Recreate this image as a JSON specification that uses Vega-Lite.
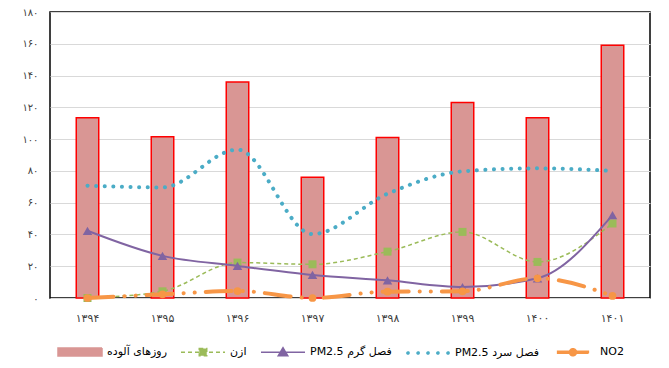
{
  "$schema": "https://vega.github.io/schema/vega-lite/v6.json",
  "width": 600,
  "height": 286,
  "autosize": {"type": "none"},
  "padding": {"left": 50, "top": 12, "right": 19, "bottom": 70},
  "config": {
    "view": {"stroke": "#000000", "strokeWidth": 1.5},
    "font": "DejaVu Sans"
  },
  "data": {
    "values": [
      {"year": "۱۳۹۴", "series": "روزهای آلوده", "value": 113.5},
      {"year": "۱۳۹۵", "series": "روزهای آلوده", "value": 101.5},
      {"year": "۱۳۹۶", "series": "روزهای آلوده", "value": 136},
      {"year": "۱۳۹۷", "series": "روزهای آلوده", "value": 76},
      {"year": "۱۳۹۸", "series": "روزهای آلوده", "value": 101},
      {"year": "۱۳۹۹", "series": "روزهای آلوده", "value": 123},
      {"year": "۱۴۰۰", "series": "روزهای آلوده", "value": 113.5},
      {"year": "۱۴۰۱", "series": "روزهای آلوده", "value": 159},
      {"year": "۱۳۹۴", "series": "ازن", "value": 0},
      {"year": "۱۳۹۵", "series": "ازن", "value": 4.2},
      {"year": "۱۳۹۶", "series": "ازن", "value": 22.3},
      {"year": "۱۳۹۷", "series": "ازن", "value": 21.2},
      {"year": "۱۳۹۸", "series": "ازن", "value": 29.2},
      {"year": "۱۳۹۹", "series": "ازن", "value": 41.6},
      {"year": "۱۴۰۰", "series": "ازن", "value": 22.7},
      {"year": "۱۴۰۱", "series": "ازن", "value": 46.9},
      {"year": "۱۳۹۴", "series": "PM2.5 فصل گرم", "value": 42.3},
      {"year": "۱۳۹۵", "series": "PM2.5 فصل گرم", "value": 26.5},
      {"year": "۱۳۹۶", "series": "PM2.5 فصل گرم", "value": 20.2},
      {"year": "۱۳۹۷", "series": "PM2.5 فصل گرم", "value": 14.5},
      {"year": "۱۳۹۸", "series": "PM2.5 فصل گرم", "value": 11.1},
      {"year": "۱۳۹۹", "series": "PM2.5 فصل گرم", "value": 6.9},
      {"year": "۱۴۰۰", "series": "PM2.5 فصل گرم", "value": 12.4},
      {"year": "۱۴۰۱", "series": "PM2.5 فصل گرم", "value": 52.2},
      {"year": "۱۳۹۴", "series": "PM2.5 فصل سرد", "value": 70.7},
      {"year": "۱۳۹۵", "series": "PM2.5 فصل سرد", "value": 69.6},
      {"year": "۱۳۹۶", "series": "PM2.5 فصل سرد", "value": 93.4},
      {"year": "۱۳۹۷", "series": "PM2.5 فصل سرد", "value": 40.2},
      {"year": "۱۳۹۸", "series": "PM2.5 فصل سرد", "value": 65.6},
      {"year": "۱۳۹۹", "series": "PM2.5 فصل سرد", "value": 79.7},
      {"year": "۱۴۰۰", "series": "PM2.5 فصل سرد", "value": 81.6},
      {"year": "۱۴۰۱", "series": "PM2.5 فصل سرد", "value": 80},
      {"year": "۱۳۹۴", "series": "NO2", "value": 0},
      {"year": "۱۳۹۵", "series": "NO2", "value": 2.3},
      {"year": "۱۳۹۶", "series": "NO2", "value": 4.4},
      {"year": "۱۳۹۷", "series": "NO2", "value": 0},
      {"year": "۱۳۹۸", "series": "NO2", "value": 4},
      {"year": "۱۳۹۹", "series": "NO2", "value": 4.2},
      {"year": "۱۴۰۰", "series": "NO2", "value": 12.4},
      {"year": "۱۴۰۱", "series": "NO2", "value": 1.3}
    ]
  },
  "encoding": {
    "x": {
      "field": "year",
      "type": "ordinal",
      "sort": null,
      "scale": {"paddingInner": 0.7, "paddingOuter": 0.35},
      "axis": {
        "title": null,
        "labelAngle": 0,
        "ticks": false,
        "domain": false,
        "grid": false,
        "labelPadding": 14,
        "labelFontSize": 11,
        "labelColor": "#404040"
      }
    },
    "y": {
      "field": "value",
      "type": "quantitative",
      "scale": {"domain": [0, 180], "nice": false},
      "axis": {
        "title": null,
        "values": [0, 20, 40, 60, 80, 100, 120, 140, 160, 180],
        "ticks": false,
        "domain": false,
        "labelPadding": 12,
        "labelFontSize": 10,
        "labelColor": "#404040",
        "gridColor": "#D9D9D9",
        "gridWidth": 1,
        "labelExpr": "replace(replace(replace(replace(replace(replace(replace(replace(replace(replace(datum.label, regexp('0','g'),'۰'), regexp('1','g'),'۱'), regexp('2','g'),'۲'), regexp('3','g'),'۳'), regexp('4','g'),'۴'), regexp('5','g'),'۵'), regexp('6','g'),'۶'), regexp('7','g'),'۷'), regexp('8','g'),'۸'), regexp('9','g'),'۹')"
      }
    },
    "color": {
      "field": "series",
      "type": "nominal",
      "scale": {
        "domain": ["روزهای آلوده", "ازن", "PM2.5 فصل گرم", "PM2.5 فصل سرد", "NO2"],
        "range": ["#D99694", "#9BBB59", "#8064A2", "#4BACC6", "#F79646"]
      },
      "legend": {
        "title": null,
        "orient": "none",
        "direction": "horizontal",
        "columns": 5,
        "legendX": 7,
        "legendY": 317,
        "columnPadding": 11,
        "labelOffset": 4,
        "labelFontSize": 11,
        "labelColor": "#000000",
        "symbolSize": 1936,
        "symbolStrokeWidth": 1.5,
        "labelLimit": 200,
        "encode": {
          "symbols": {
            "update": {
              "shape": {"signal": "datum.value === 'روزهای آلوده' ? 'M-1,-0.18H1V0.18H-1Z' : datum.value === 'ازن' ? 'M-1,0H1M-0.17,-0.17H0.17V0.17H-0.17Z' : datum.value === 'PM2.5 فصل گرم' ? 'M-1,0H1M-0.22,0.17L0,-0.2L0.22,0.17Z' : datum.value === 'PM2.5 فصل سرد' ? 'M-0.96,0A0.05,0.05 0 1,1 -0.86,0A0.05,0.05 0 1,1 -0.96,0ZM-0.5,0A0.05,0.05 0 1,1 -0.4,0A0.05,0.05 0 1,1 -0.5,0ZM-0.05,0A0.05,0.05 0 1,1 0.05,0A0.05,0.05 0 1,1 -0.05,0ZM0.4,0A0.05,0.05 0 1,1 0.5,0A0.05,0.05 0 1,1 0.4,0ZM0.86,0A0.05,0.05 0 1,1 0.96,0A0.05,0.05 0 1,1 0.86,0Z' : 'M-0.7,-0.05H0.7V0.05H-0.7ZM-0.16,0A0.16,0.16 0 1,1 0.16,0A0.16,0.16 0 1,1 -0.16,0Z'"},
              "fill": {"signal": "datum.value === 'روزهای آلوده' ? '#D99694' : datum.value === 'ازن' ? '#9BBB59' : datum.value === 'PM2.5 فصل گرم' ? '#8064A2' : datum.value === 'PM2.5 فصل سرد' ? '#4BACC6' : '#F79646'"},
              "stroke": {"signal": "datum.value === 'روزهای آلوده' ? '#FF0000' : datum.value === 'ازن' ? '#9BBB59' : datum.value === 'PM2.5 فصل گرم' ? '#8064A2' : datum.value === 'PM2.5 فصل سرد' ? '#4BACC6' : '#F79646'"},
              "strokeDash": {"signal": "datum.value === 'ازن' ? [4, 3] : [1, 0]"},
              "opacity": {"value": 1}
            }
          }
        }
      }
    }
  },
  "layer": [
    {
      "transform": [{"filter": "datum.series === 'روزهای آلوده'"}],
      "mark": {"type": "bar", "stroke": "#FF0000", "strokeWidth": 1.5, "opacity": 1}
    },
    {
      "transform": [{"filter": "datum.series === 'ازن'"}],
      "mark": {"type": "line", "strokeWidth": 1.5, "strokeDash": [4, 3], "interpolate": "monotone"}
    },
    {
      "transform": [{"filter": "datum.series === 'ازن'"}],
      "mark": {"type": "point", "shape": "square", "filled": true, "size": 64, "opacity": 1}
    },
    {
      "transform": [{"filter": "datum.series === 'PM2.5 فصل گرم'"}],
      "mark": {"type": "line", "strokeWidth": 2, "interpolate": "monotone"}
    },
    {
      "transform": [{"filter": "datum.series === 'PM2.5 فصل گرم'"}],
      "mark": {"type": "point", "shape": "triangle-up", "filled": true, "size": 90, "opacity": 1}
    },
    {
      "transform": [{"filter": "datum.series === 'PM2.5 فصل سرد'"}],
      "mark": {"type": "line", "strokeWidth": 4, "strokeDash": [0.1, 8.5], "strokeCap": "round", "interpolate": "monotone"}
    },
    {
      "transform": [{"filter": "datum.series === 'NO2'"}],
      "mark": {"type": "line", "strokeWidth": 4, "strokeDash": [26, 11, 0.1, 11, 0.1, 11], "strokeCap": "round", "interpolate": "monotone"}
    },
    {
      "transform": [{"filter": "datum.series === 'NO2'"}],
      "mark": {"type": "point", "shape": "circle", "filled": true, "size": 60, "opacity": 1}
    }
  ]
}
